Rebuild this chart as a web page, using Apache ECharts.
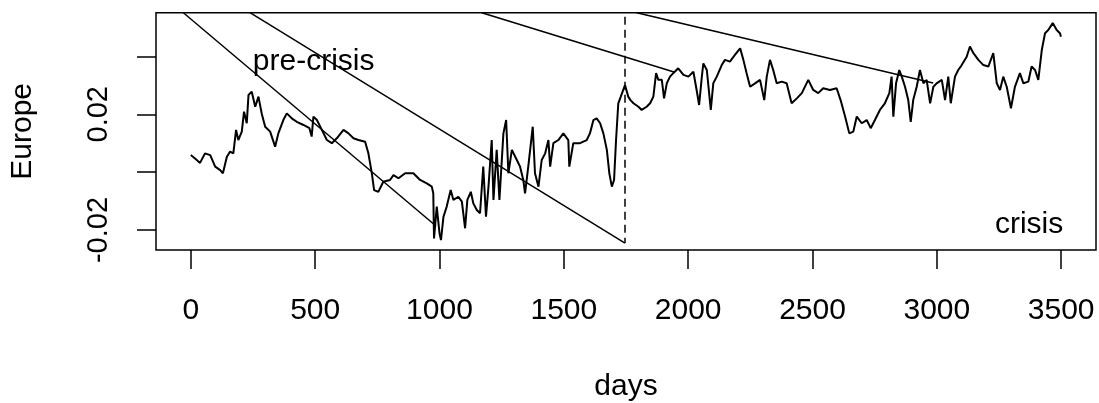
<!DOCTYPE html>
<html>
<head>
<meta charset="utf-8">
<script src="https://cdn.jsdelivr.net/npm/echarts@6/dist/echarts.min.js"></script>
<style>
  html, body { margin: 0; padding: 0; background: #fff; }
  #chart { width: 1099px; height: 403px; }
</style>
</head>
<body>
<div id="chart"></div>
<script>
// Daily index level for Europe (days since start, value)
const days = [
  0, 24, 37, 57, 78, 98, 118, 129, 145, 158, 171, 182, 191, 205, 214, 225, 232, 245, 259, 272,
  285, 299, 319, 339, 352, 372, 386, 406, 426, 453, 477, 486, 493, 507, 527, 547, 567, 587, 614, 634,
  654, 674, 701, 714, 728, 737, 754, 774, 781, 801, 815, 821, 835, 842, 862, 895, 922, 949, 969, 975,
  978, 989, 1000, 1006, 1016, 1029, 1045, 1056, 1076, 1090, 1103, 1112, 1126, 1136, 1150, 1163, 1176, 1187, 1197, 1210,
  1217, 1230, 1241, 1257, 1268, 1277, 1291, 1311, 1324, 1337, 1344, 1357, 1375, 1384, 1398, 1411, 1425, 1438, 1445, 1458,
  1478, 1498, 1518, 1522, 1538, 1565, 1592, 1605, 1619, 1632, 1646, 1659, 1673, 1683, 1693, 1702, 1710, 1719, 1729, 1746,
  1759, 1768, 1780, 1800, 1813, 1833, 1847, 1860, 1871, 1880, 1894, 1903, 1914, 1927, 1940, 1960, 1981, 2001, 2021, 2034,
  2044, 2055, 2061, 2075, 2091, 2101, 2115, 2135, 2148, 2168, 2188, 2209, 2222, 2235, 2249, 2269, 2289, 2306, 2316, 2329,
  2342, 2356, 2376, 2396, 2416, 2437, 2457, 2483, 2503, 2523, 2543, 2570, 2597, 2613, 2631, 2648, 2664, 2678, 2698, 2718,
  2734, 2751, 2771, 2791, 2809, 2818, 2825, 2836, 2849, 2859, 2872, 2885, 2895, 2905, 2919, 2932, 2946, 2959, 2973, 2986,
  2999, 3020, 3033, 3046, 3056, 3073, 3086, 3100, 3120, 3133, 3147, 3167, 3187, 3207, 3227, 3241, 3254, 3267, 3281, 3298,
  3314, 3334, 3348, 3368, 3381, 3395, 3408, 3422, 3435, 3448, 3466, 3482, 3495, 3499
];
const europe = [
  0.0059, 0.0042, 0.0032, 0.0065, 0.0059, 0.0019, 0.0007, -0.0004, 0.0053, 0.0071, 0.0065, 0.0146, 0.0111, 0.0140, 0.0209, 0.0169, 0.0267, 0.0278, 0.0226, 0.0261,
  0.0203, 0.0157, 0.0140, 0.0088, 0.0134, 0.0180, 0.0203, 0.0186, 0.0174, 0.0163, 0.0152, 0.0123, 0.0192, 0.0180, 0.0146, 0.0111, 0.0100, 0.0117, 0.0146, 0.0134,
  0.0117, 0.0111, 0.0105, 0.0065, -0.0004, -0.0062, -0.0068, -0.0033, -0.0039, -0.0027, -0.0010, -0.0004, -0.0021, -0.0027, -0.0004, -0.0004, -0.0027, -0.0039, -0.0050, -0.0073,
  -0.0229, -0.0119, -0.0211, -0.0235, -0.0154, -0.0119, -0.0062, -0.0096, -0.0085, -0.0102, -0.0194, -0.0096, -0.0068, -0.0108, -0.0131, -0.0142, 0.0019, -0.0154, -0.0050, 0.0111,
  -0.0096, 0.0077, -0.0096, 0.0134, 0.0180, -0.0004, 0.0077, 0.0042, 0.0019, -0.0027, -0.0073, 0.0019, 0.0157, -0.0004, -0.0050, 0.0042, 0.0065, 0.0111, 0.0019, 0.0100,
  0.0111, 0.0134, 0.0111, 0.0019, 0.0100, 0.0100, 0.0111, 0.0134, 0.0180, 0.0186, 0.0169, 0.0134, 0.0077, -0.0004, -0.0050, -0.0027, 0.0111, 0.0238, 0.0261, 0.0301,
  0.0261, 0.0249, 0.0238, 0.0226, 0.0215, 0.0226, 0.0238, 0.0261, 0.0342, 0.0319, 0.0319, 0.0255, 0.0307, 0.0330, 0.0342, 0.0359, 0.0336, 0.0330, 0.0347, 0.0284,
  0.0232, 0.0330, 0.0376, 0.0353, 0.0215, 0.0307, 0.0330, 0.0370, 0.0388, 0.0382, 0.0405, 0.0428, 0.0388, 0.0342, 0.0295, 0.0307, 0.0319, 0.0249, 0.0330, 0.0388,
  0.0353, 0.0307, 0.0313, 0.0307, 0.0238, 0.0255, 0.0273, 0.0319, 0.0284, 0.0273, 0.0290, 0.0284, 0.0290, 0.0249, 0.0192, 0.0134, 0.0140, 0.0192, 0.0169, 0.0180,
  0.0152, 0.0180, 0.0215, 0.0238, 0.0273, 0.0330, 0.0192, 0.0307, 0.0353, 0.0330, 0.0295, 0.0249, 0.0174, 0.0249, 0.0295, 0.0353, 0.0307, 0.0319, 0.0238, 0.0295,
  0.0307, 0.0319, 0.0249, 0.0330, 0.0238, 0.0330, 0.0353, 0.0370, 0.0399, 0.0434, 0.0411, 0.0388, 0.0370, 0.0365, 0.0411, 0.0307, 0.0284, 0.0330, 0.0295, 0.0221,
  0.0295, 0.0342, 0.0307, 0.0313, 0.0365, 0.0353, 0.0319, 0.0422, 0.0480, 0.0491, 0.0515, 0.0491, 0.0480, 0.0468
];

// Tick positions and the labelled subset on the value axis
const xTicks = [0, 500, 1000, 1500, 2000, 2500, 3000, 3500];
const yTicks = [-0.02, 0, 0.02, 0.04];
const yLabels = [-0.02, 0.02];

// Straight guide segments: [startDay, startValue, endDay, endValue]
const guideA = [-30, 0.0551, 986, -0.0186];
const guideB = [238, 0.0551, 1746, -0.0245];
const guideC = [1170, 0.0551, 1943, 0.0346];
const guideD = [1793, 0.0551, 2985, 0.0308];
// Vertical dashed break marker
const breakLine = [1746, 0.0537, 1746, -0.0245];

// Period annotations: [day, value, text]
const notes = [
  [494, 0.0383, 'pre-crisis'],
  [3371, -0.0181, 'crisis']
];

const FONT = '"Liberation Sans", Arial, Helvetica, sans-serif';
const INK = '#000';

const seriesData = days.map((d, i) => [d, europe[i]]);

function segment(g, dashed) {
  return {
    type: 'line',
    data: [[g[0], g[1]], [g[2], g[3]]],
    showSymbol: false,
    silent: true,
    clip: true,
    animation: false,
    lineStyle: { color: INK, width: 1.5, type: dashed ? [8, 5] : 'solid' }
  };
}

const chart = echarts.init(document.getElementById('chart'), null, { renderer: 'canvas' });

chart.setOption({
  backgroundColor: '#fff',
  animation: false,
  grid: {
    left: 156, right: 3, top: 12.7, bottom: 153,
    containLabel: false,
    outerBoundsMode: 'none',
    show: true, borderColor: INK, borderWidth: 1.5, backgroundColor: 'transparent'
  },
  xAxis: {
    type: 'value',
    min: -140, max: 3640,
    name: 'days',
    nameLocation: 'middle',
    nameGap: 122,
    nameTextStyle: { fontFamily: FONT, fontSize: 30, color: INK },
    axisLine: { show: false, onZero: false },
    splitLine: { show: false },
    axisTick: {
      show: true, inside: false, length: 19,
      customValues: xTicks,
      lineStyle: { color: INK, width: 1.5 }
    },
    axisLabel: {
      show: true, margin: 46,
      customValues: xTicks,
      fontFamily: FONT, fontSize: 30, color: INK,
      formatter: v => String(v)
    }
  },
  yAxis: {
    type: 'value',
    min: -0.0269, max: 0.0551,
    name: 'Europe',
    nameLocation: 'middle',
    nameRotate: 90,
    nameGap: 118,
    nameTextStyle: { fontFamily: FONT, fontSize: 30, color: INK },
    axisLine: { show: false, onZero: false },
    splitLine: { show: false },
    axisTick: {
      show: true, inside: false, length: 19,
      customValues: yTicks,
      lineStyle: { color: INK, width: 1.5 }
    },
    axisLabel: {
      show: true, margin: 43, rotate: 90,
      customValues: yLabels,
      fontFamily: FONT, fontSize: 29, color: INK,
      formatter: v => (Math.round(v * 100) / 100).toFixed(2)
    }
  },
  series: [
    {
      type: 'line',
      name: 'Europe',
      data: seriesData,
      showSymbol: false,
      clip: true,
      lineStyle: { color: INK, width: 2 }
    },
    segment(guideA, false),
    segment(guideB, false),
    segment(guideC, false),
    segment(guideD, false),
    segment(breakLine, true),
    {
      type: 'scatter',
      data: notes.map(n => ({ value: [n[0], n[1]], name: n[2] })),
      symbolSize: 0,
      silent: true,
      itemStyle: { opacity: 1 },
      label: {
        show: true,
        position: 'inside',
        formatter: p => p.name,
        fontFamily: FONT, fontSize: 30, color: INK, opacity: 1
      }
    }
  ]
});
</script>
</body>
</html>
